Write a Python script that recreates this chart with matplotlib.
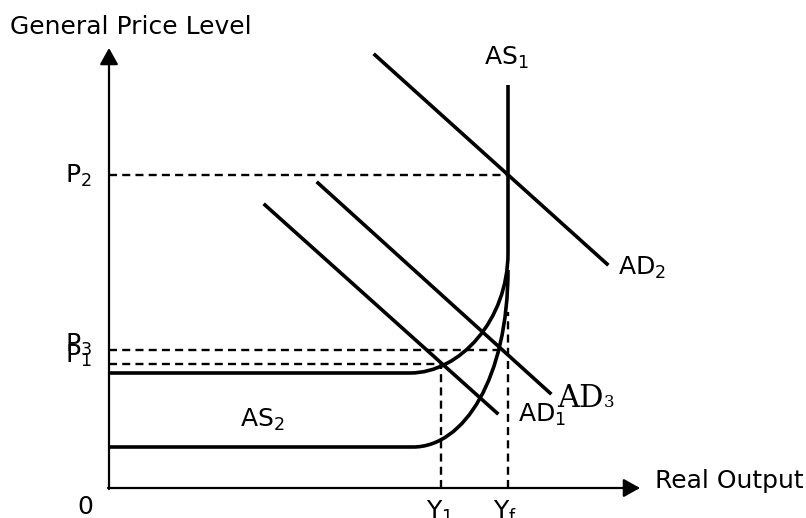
import numpy as np
import matplotlib
matplotlib.use("Agg")
import matplotlib.pyplot as plt
from matplotlib.path import Path
from matplotlib.patches import PathPatch

plt.rcParams['font.family'] = 'DejaVu Sans'
plt.rcParams['mathtext.default'] = 'regular'

# diagram coordinates (output on x, price level on y)
x_max, y_max = 531, 440
y_1, y_f = 332, 399
p_1, p_3, p_2 = 124, 138, 313

# aggregate demand lines (start, end)
ad1 = [(156, 283), (388, 75)]
ad3 = [(209, 305), (441, 95)]
ad2 = [(266, 433), (498, 224)]

# aggregate supply: flat part, bend (bezier control points), vertical part
as1_flat = [(0, 115), (301, 115)]
as1_bend = [(301, 115), (351, 115), (399, 168), (399, 235)]
as1_vert = [(399, 235), (399, 403)]
as2_flat = [(0, 41), (304, 41)]
as2_bend = [(304, 41), (355, 41), (399, 110), (399, 218)]

fig = plt.figure(figsize=(8.06, 5.18), dpi=100)
ax = fig.add_axes([109 / 806, 30 / 518, 531 / 806, 440 / 518])
ax.set_xlim(0, x_max)
ax.set_ylim(0, y_max)
ax.axis('off')

lw = 2.6
dash = dict(color='black', lw=1.7, linestyle=(0, (3.4, 2.2)))

# dashed guides
ax.plot([0, y_f], [p_2, p_2], **dash)
ax.plot([0, 391], [p_3, p_3], **dash)
ax.plot([0, y_1], [p_1, p_1], **dash)
ax.plot([y_1, y_1], [0, p_1], **dash)
ax.plot([y_f, y_f], [0, 176], **dash)

# AS curves
for seg in (as1_flat, as1_vert, as2_flat):
    xs, ys = zip(*seg)
    ax.plot(xs, ys, color='black', lw=lw, solid_capstyle='butt')
for bend in (as1_bend, as2_bend):
    path = Path(bend, [Path.MOVETO, Path.CURVE4, Path.CURVE4, Path.CURVE4])
    ax.add_patch(PathPatch(path, facecolor='none', edgecolor='black', lw=lw))

# AD lines
for line in (ad1, ad3, ad2):
    xs, ys = zip(*line)
    ax.plot(xs, ys, color='black', lw=lw)

# axes with arrows
arrow = dict(arrowstyle='-|>,head_length=0.5,head_width=0.28', color='black',
             lw=1.6, mutation_scale=20, shrinkA=0, shrinkB=0)
ax.annotate('', xy=(x_max, 0), xytext=(-1, 0), arrowprops=arrow, annotation_clip=False)
ax.annotate('', xy=(0, y_max), xytext=(0, -1), arrowprops=arrow, annotation_clip=False)

fs = 18
kw = dict(fontsize=fs, clip_on=False)
ax.text(-99, 461, 'General Price Level', va='center', ha='left', **kw)
ax.text(546, 7, 'Real Output', va='center', ha='left', **kw)
ax.text(-24, -19, '0', va='center', ha='center', **kw)
ax.text(-17, 305, '$P_2$', va='baseline', ha='right', **kw)
ax.text(-17, 136, '$P_3$', va='baseline', ha='right', **kw)
ax.text(-17, 125, '$P_1$', va='baseline', ha='right', **kw)
ax.text(331, -11, '$Y_1$', va='top', ha='center', **kw)
ax.text(396, -11, '$Y_f$', va='top', ha='center', **kw)
ax.text(397, 423, '$AS_1$', va='baseline', ha='center', **kw)
ax.text(131, 61, '$AS_2$', va='baseline', ha='left', **kw)
ax.text(509, 213, '$AD_2$', va='baseline', ha='left', **kw)
ax.text(409, 66, '$AD_1$', va='baseline', ha='left', **kw)
ax.text(448, 81, 'AD', va='baseline', ha='left', fontsize=22, family='DejaVu Serif', clip_on=False)
ax.text(495, 81, '3', va='baseline', ha='left', fontsize=12, family='DejaVu Serif', clip_on=False)

fig.savefig('out.png', dpi=100)
